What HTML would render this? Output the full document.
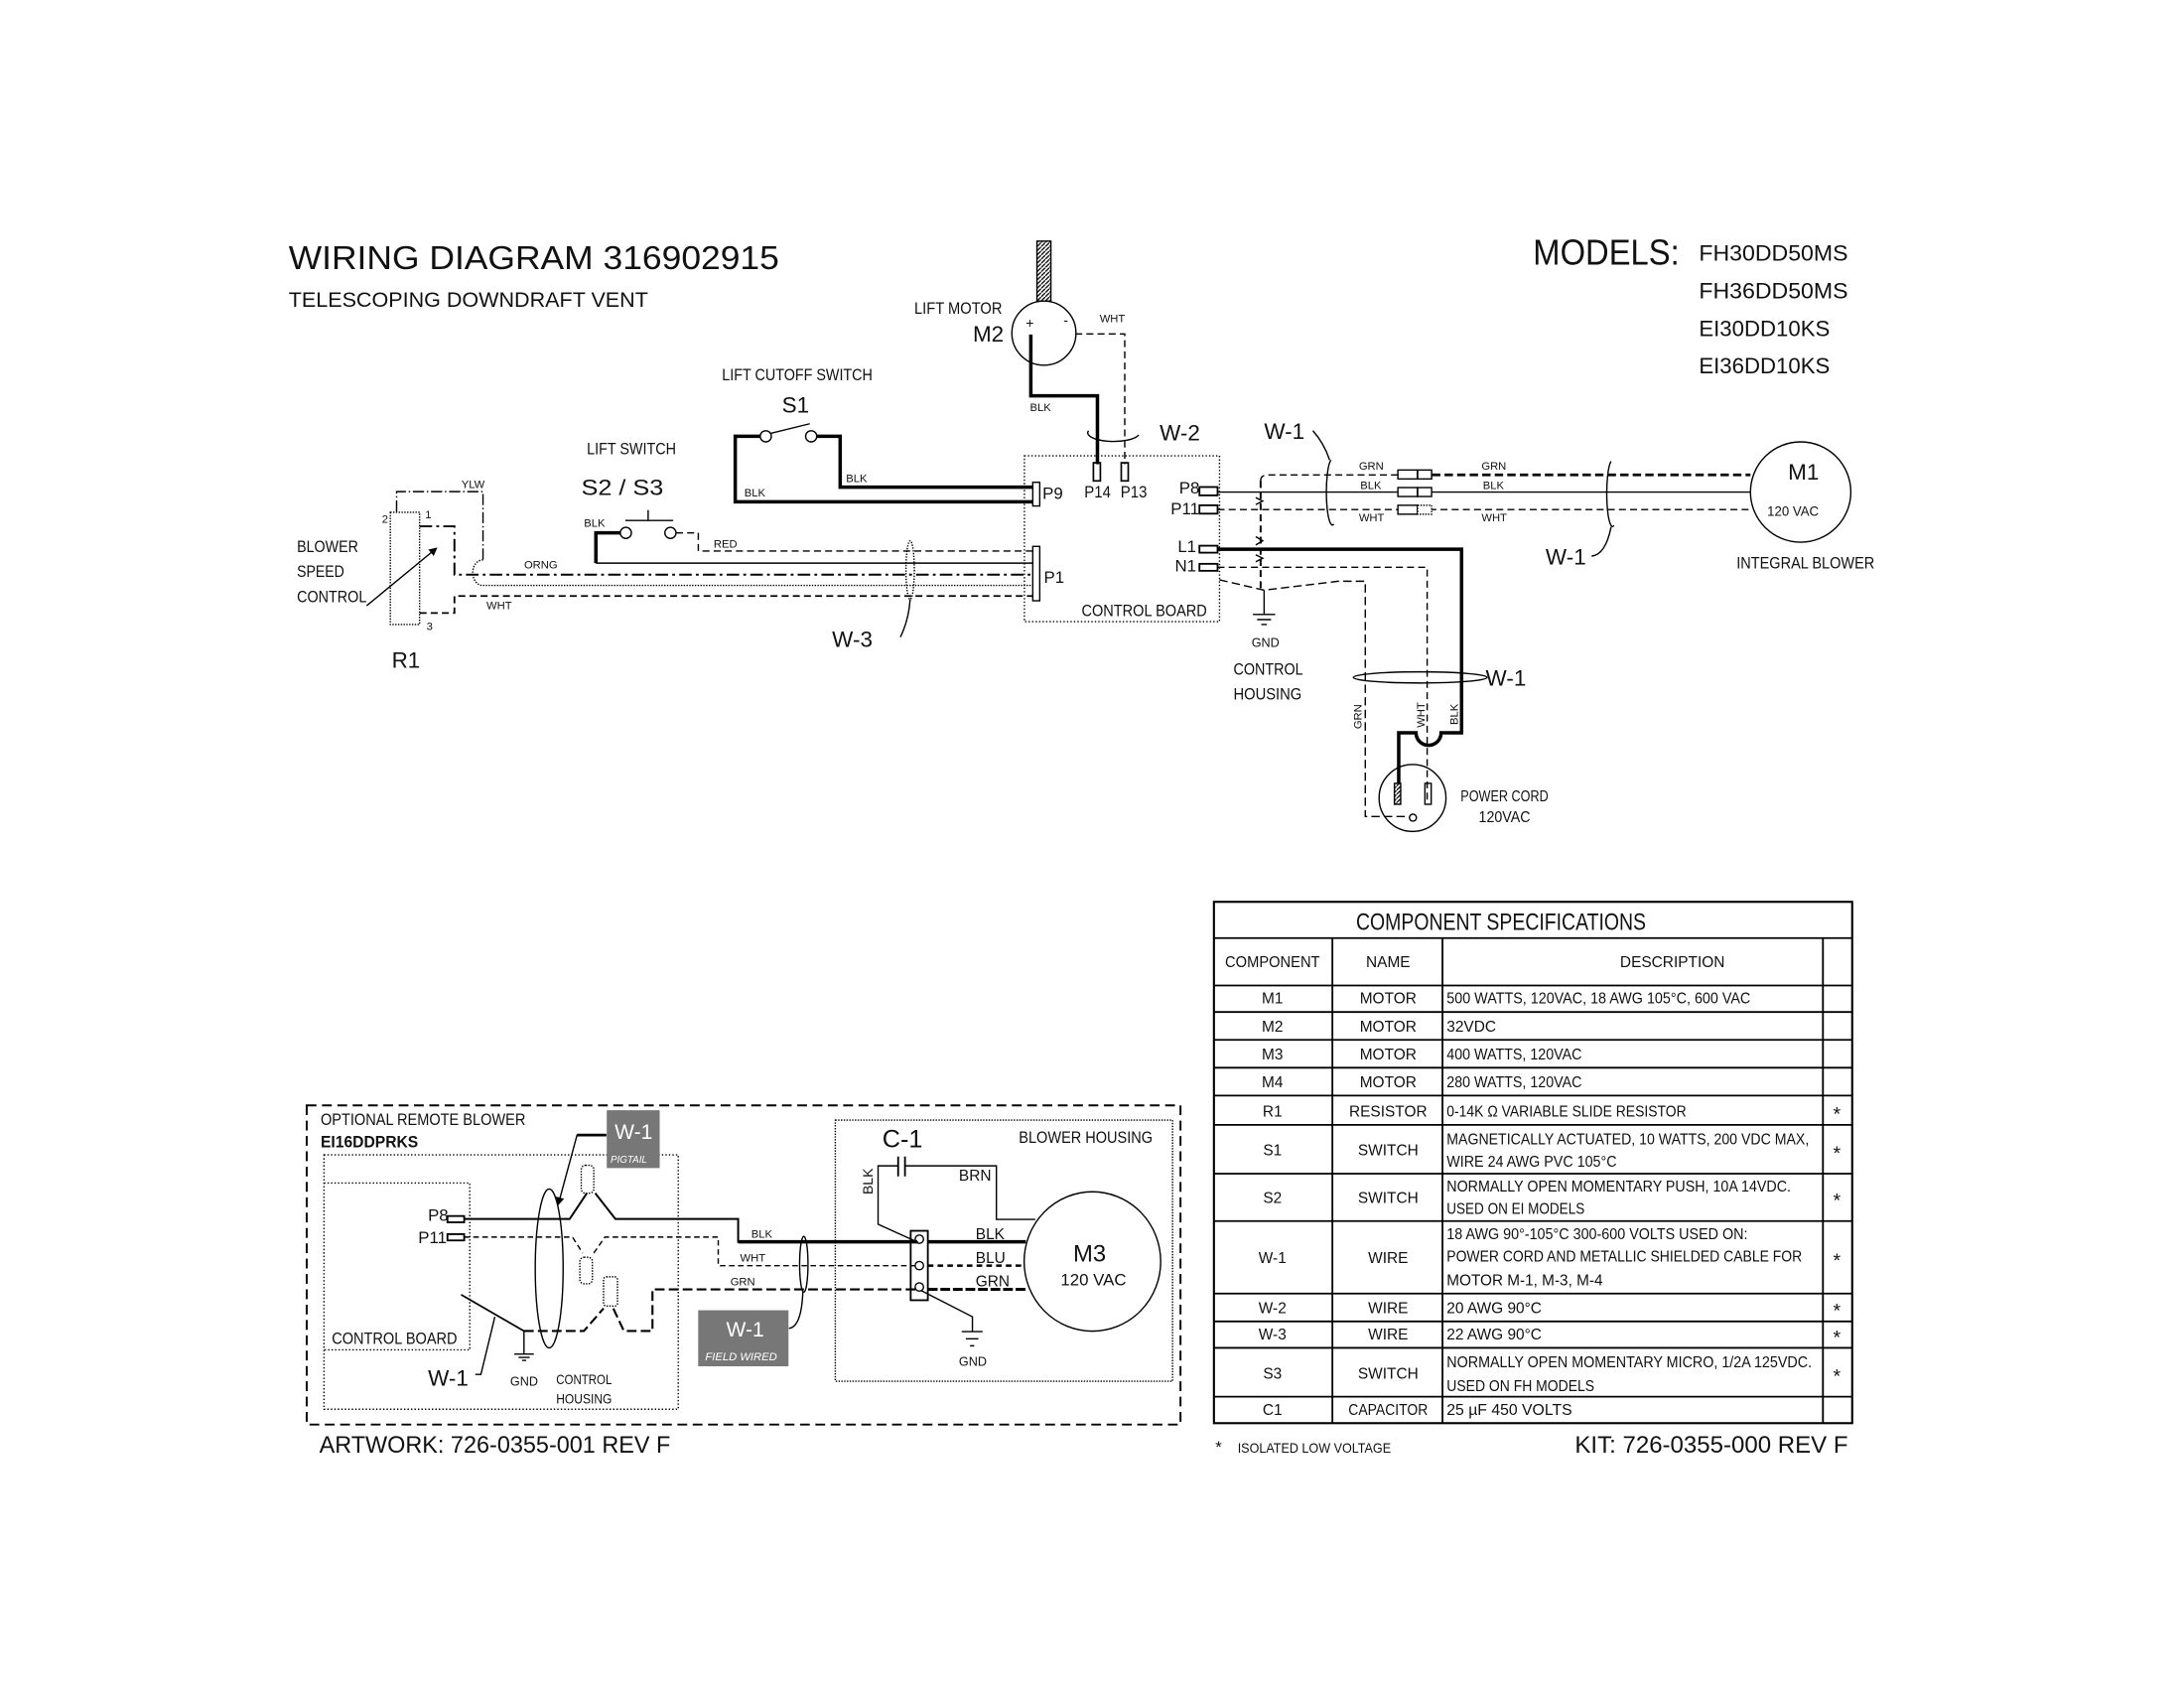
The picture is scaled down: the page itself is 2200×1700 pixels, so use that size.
<!DOCTYPE html>
<html><head><meta charset="utf-8"><style>
html,body{margin:0;padding:0;background:#fff;}
svg{display:block;}
text{font-family:"Liberation Sans Narrow","Liberation Sans",sans-serif;fill:#111;}
</style></head><body>
<svg width="2200" height="1700" viewBox="0 0 1567 1211" xmlns="http://www.w3.org/2000/svg">
<defs>
<pattern id="hatch" width="3" height="3" patternUnits="userSpaceOnUse"><rect width="3" height="3" fill="#fff"/><path d="M0,3 L3,0" stroke="#000" stroke-width="0.9"/></pattern>
<marker id="arr" markerWidth="6" markerHeight="6" refX="5" refY="3" orient="auto"><path d="M0,0 L6,3 L0,6 z" fill="#000"/></marker>
</defs>
<rect width="1567" height="1211" fill="#fff"/>

<text x="207" y="193" font-size="24" textLength="352" lengthAdjust="spacingAndGlyphs">WIRING DIAGRAM   316902915</text>
<text x="207" y="220" font-size="15" textLength="258" lengthAdjust="spacingAndGlyphs">TELESCOPING DOWNDRAFT VENT</text>
<text x="1100" y="190" font-size="26" textLength="105" lengthAdjust="spacingAndGlyphs">MODELS:</text>
<text x="1219" y="187" font-size="16" textLength="107" lengthAdjust="spacingAndGlyphs">FH30DD50MS</text>
<text x="1219" y="214" font-size="16" textLength="107" lengthAdjust="spacingAndGlyphs">FH36DD50MS</text>
<text x="1219" y="241" font-size="16" textLength="94" lengthAdjust="spacingAndGlyphs">EI30DD10KS</text>
<text x="1219" y="268" font-size="16" textLength="94" lengthAdjust="spacingAndGlyphs">EI36DD10KS</text>

<g fill="none" stroke="#000" stroke-width="1">
<rect x="744" y="173" width="10" height="43" fill="url(#hatch)" stroke="#000"/>
<circle cx="749" cy="239" r="23" fill="#fff"/>
<path d="M739.6,240 V284 H787.4 V333" stroke-width="2.5"/>
<path d="M771.5,239.6 H807 V333" stroke-dasharray="5,3"/>
<rect x="784.5" y="332" width="5" height="13" stroke-width="1.2"/>
<rect x="804.5" y="332" width="5" height="13" stroke-width="1.2"/>
<path d="M781,309 A18,6 0 1 0 817,312" />
<rect x="735" y="327" width="140" height="119" stroke-dasharray="1,1.5"/>
<rect x="741" y="346" width="5" height="17"/>
<rect x="741" y="392" width="5" height="39"/>
<circle cx="549.4" cy="313" r="4"/>
<circle cx="582" cy="313" r="4"/>
<path d="M552.6,311 L581,304"/>
<path d="M545.5,313 H527.5 V360 H741" stroke-width="2.5"/>
<path d="M586,313 H602.8 V349.5 H741" stroke-width="2.5"/>
<path d="M465,366 V373.4 M448.6,373.4 H483"/>
<circle cx="449" cy="382.3" r="4"/>
<circle cx="481" cy="382.3" r="4"/>
<path d="M445,382.3 H427.5 V404" stroke-width="2.5"/>
<path d="M427.5,404 H741"/>
<path d="M485,382.3 H501 V395.3 H741" stroke-dasharray="5,3"/>
<rect x="280" y="367.5" width="21" height="80.5" stroke-dasharray="1,1"/>
<path d="M284.5,367 V352.7 H346.5 V401.7" stroke-dasharray="8,2,1,2"/>
<path d="M346.5,401.7 A7,9 0 0 0 346,420 H741" stroke-dasharray="1,1"/>
<path d="M301,377.6 H326 V412.3 H741" stroke-dasharray="9,3,2,3" stroke-width="1.4"/>
<path d="M301,439.8 H326 V427.6 H741" stroke-dasharray="5,3" stroke-width="1.3"/>
<path d="M263,434.6 L313,393.4" marker-end="url(#arr)"/>
<ellipse cx="653" cy="409" rx="3" ry="21" stroke-dasharray="1,1"/>
<path d="M653,430 Q652,445 646,457"/>
<rect x="860.6" y="349.4" width="13" height="6" stroke-width="1.3"/>
<rect x="860.6" y="362.5" width="13" height="6" stroke-width="1.3"/>
<rect x="860.6" y="391.5" width="13" height="5" stroke-width="1.3"/>
<rect x="860.6" y="404.5" width="13" height="5" stroke-width="1.3"/>
<path d="M873.6,353 H1256"/>
<path d="M873.6,365.6 H1256" stroke-dasharray="5,3"/>
<path d="M904.5,345 Q904.5,340.7 910,340.7 H1003" stroke-dasharray="5,3"/>
<path d="M1027.5,340.7 H1256" stroke-dasharray="6,3" stroke-width="2"/>
<path d="M904.5,345 V423" stroke-dasharray="5,3" stroke-width="1.4"/>
<path d="M901,357 L906,359.5 L901,362 M901,385 L906,388 L901,391 M901,398 L906,400.5 L901,403" stroke-width="1"/>
<path d="M873.6,394 H1048.7 V525.7 H1034 A9,9 0 0 1 1016,525.7 H1003.6 V562" stroke-width="2.5"/>
<path d="M873.6,407 H1024 V575" stroke-dasharray="5,3"/>
<path d="M875,416 L907,423.4 L960,417 H979.6 V585.8 H1011" stroke-dasharray="6,3"/>
<path d="M907,423.4 V440.8 M899,440.8 H915 M902,444.5 H912 M905,448 H909"/>
<rect x="1003" y="337.2" width="14" height="6.4" fill="#fff"/><rect x="1017.2" y="337.2" width="10" height="6.4" fill="#fff"/>
<rect x="1003" y="349.8" width="14" height="6.4" fill="#fff"/><rect x="1017.2" y="349.8" width="10" height="6.4" fill="#fff"/>
<rect x="1003" y="362.5" width="14" height="6.4" fill="#fff"/><rect x="1017.2" y="362.5" width="10" height="6.4" fill="#fff" stroke-dasharray="1,1"/>
<path d="M955,330 A4,22 0 1 0 957,376"/>
<path d="M942,309 Q950,318 954,330"/>
<path d="M1156,331 A4,23 0 1 0 1158,377"/>
<path d="M1156,378 Q1152,398 1142,399"/>
<ellipse cx="1019" cy="486" rx="48" ry="4"/>
<circle cx="1292" cy="353" r="36" fill="#fff"/>
<circle cx="1013.5" cy="572.5" r="24"/>
<rect x="1000.5" y="562" width="4.5" height="15" fill="url(#hatch)"/>
<rect x="1022.4" y="562" width="4.5" height="15"/>
<circle cx="1013.8" cy="586.6" r="2.5"/>

<rect x="220" y="793" width="627" height="229" stroke-dasharray="7,4" stroke-width="1.4"/>
<rect x="232.4" y="828.5" width="254.2" height="182.5" stroke-dasharray="1,1.5"/>
<path d="M232.4,848.7 H337 V968.4 H232.4" stroke-dasharray="1,1.5"/>
<rect x="321" y="872.4" width="12" height="4.5" stroke-width="1.3"/>
<rect x="321" y="885.4" width="12" height="4.5" stroke-width="1.3"/>
<path d="M333,874.5 H408.7 L421,856 M427,856 L441.5,874.5 H529.6 V890.9 H658" stroke-width="1.4"/>
<path d="M529.6,890.9 H658" stroke-width="2.5"/>
<path d="M333,887.5 H410.7 L418,899 M426,899 L434,887.5 H515.3 V908 H658" stroke-dasharray="4,2.5"/>
<path d="M375.9,954.9 H418.9 L433,938.7 M440,938.7 L447.6,954.9 H468.1 V925 H658" stroke-dasharray="7,3" stroke-width="1.5"/>
<path d="M330.8,928.8 L375.9,954.9" stroke-width="1.2"/>
<path d="M375.9,954.9 V971 M369,971.4 H383 M372,973.8 H380 M374.5,976 H377.5"/>
<path d="M355,944.7 L345,986 H341"/>
<ellipse cx="394" cy="910" rx="10" ry="57"/>
<rect x="417" y="836" width="9" height="20" rx="3" stroke-dasharray="1,1"/>
<rect x="416" y="902" width="9" height="19" rx="3" stroke-dasharray="1,1"/>
<rect x="433" y="916" width="10" height="21" rx="2" stroke-dasharray="1,1"/>
<path d="M435,814.3 H414 L400.5,864" stroke-width="1" marker-end="url(#arr)"/>
<path d="M435,814.3 H414" stroke-width="2"/>
<ellipse cx="576.7" cy="907" rx="3" ry="20"/>
<path d="M566,953 Q575,952 576,927"/>
<rect x="599.3" y="803.6" width="242" height="187.3" stroke-dasharray="1,1"/>
<path d="M644.4,829.7 V844 M649.3,829.7 V844" stroke-width="1.3"/>
<path d="M644.4,836.4 H630 V878.3 L658.8,891.3"/>
<path d="M649.3,836.4 H714.9 V874.8 H742.8"/>
<rect x="653.4" y="883" width="12.3" height="49.8" stroke-width="1.3"/>
<circle cx="659.6" cy="889" r="3"/><circle cx="659.6" cy="908" r="3"/><circle cx="659.6" cy="923.3" r="3"/>
<path d="M665.7,890.9 H736" stroke-width="2.5"/>
<path d="M665.7,908 H736" stroke-dasharray="4,3" stroke-width="1.8"/>
<path d="M665.7,925 H736" stroke-dasharray="7,2" stroke-width="2.2"/>
<path d="M660.6,925.7 L697.7,944.7 V955.3 M690,955.3 H705 M693,960.5 H702 M696,965.5 H699"/>
<ellipse cx="783.8" cy="905" rx="49" ry="50" fill="#fff"/>

<rect x="871" y="647" width="458" height="374" stroke-width="1.5"/>
<path d="M871,673 H1329 M871,707 H1329 M871,726 H1329 M871,746 H1329 M871,766 H1329 M871,786 H1329 M871,807 H1329 M871,842 H1329 M871,876 H1329 M871,928 H1329 M871,948 H1329 M871,967 H1329 M871,1002 H1329" stroke-width="1.3"/>
<path d="M956,673 V1021 M1035,673 V1021 M1308,673 V1021" stroke-width="1.3"/>
</g>

<g font-size="11">
<text x="656" y="225" font-size="12" textLength="63" lengthAdjust="spacingAndGlyphs">LIFT MOTOR</text>
<text x="698" y="245" font-size="16">M2</text>
<text x="736" y="235" font-size="10">+</text>
<text x="763" y="233" font-size="10">-</text>
<text x="789" y="231" font-size="8">WHT</text>
<text x="739" y="295" font-size="8">BLK</text>
<text x="832" y="316" font-size="16">W-2</text>
<text x="778" y="357" font-size="12" textLength="19" lengthAdjust="spacingAndGlyphs">P14</text>
<text x="804" y="357" font-size="12" textLength="19" lengthAdjust="spacingAndGlyphs">P13</text>
<text x="748" y="358" font-size="12">P9</text>
<text x="749" y="418" font-size="12">P1</text>
<text x="776" y="442" font-size="12" textLength="90" lengthAdjust="spacingAndGlyphs">CONTROL BOARD</text>
<text x="518" y="273" font-size="12" textLength="108" lengthAdjust="spacingAndGlyphs">LIFT CUTOFF SWITCH</text>
<text x="561" y="296" font-size="16">S1</text>
<text x="534" y="356" font-size="8">BLK</text>
<text x="607" y="346" font-size="8">BLK</text>
<text x="421" y="326" font-size="12" textLength="64" lengthAdjust="spacingAndGlyphs">LIFT SWITCH</text>
<text x="417" y="355" font-size="16" textLength="59" lengthAdjust="spacingAndGlyphs">S2 / S3</text>
<text x="419" y="378" font-size="8">BLK</text>
<text x="512" y="393" font-size="8">RED</text>
<text x="331" y="350" font-size="8">YLW</text>
<text x="376" y="408" font-size="8">ORNG</text>
<text x="349" y="437" font-size="8">WHT</text>
<text x="274" y="375" font-size="8">2</text>
<text x="305" y="372" font-size="8">1</text>
<text x="306" y="452" font-size="8">3</text>
<text x="213" y="396" font-size="12" textLength="44" lengthAdjust="spacingAndGlyphs">BLOWER</text>
<text x="213" y="414" font-size="12" textLength="34" lengthAdjust="spacingAndGlyphs">SPEED</text>
<text x="213" y="432" font-size="12" textLength="50" lengthAdjust="spacingAndGlyphs">CONTROL</text>
<text x="281" y="479" font-size="16">R1</text>
<text x="597" y="464" font-size="16">W-3</text>
<text x="846" y="354" font-size="12">P8</text>
<text x="840" y="369" font-size="12">P11</text>
<text x="845" y="396" font-size="12">L1</text>
<text x="843" y="410" font-size="12">N1</text>
<text x="907" y="315" font-size="16">W-1</text>
<text x="975" y="337" font-size="8">GRN</text>
<text x="976" y="351" font-size="8">BLK</text>
<text x="975" y="374" font-size="8">WHT</text>
<text x="1063" y="337" font-size="8">GRN</text>
<text x="1064" y="351" font-size="8">BLK</text>
<text x="1063" y="374" font-size="8">WHT</text>
<text x="1109" y="405" font-size="16">W-1</text>
<text x="1283" y="344" font-size="16">M1</text>
<text x="1268" y="370" font-size="10" textLength="37" lengthAdjust="spacingAndGlyphs">120 VAC</text>
<text x="1246" y="408" font-size="12" textLength="99" lengthAdjust="spacingAndGlyphs">INTEGRAL BLOWER</text>
<text x="898" y="464" font-size="9">GND</text>
<text x="885" y="484" font-size="12" textLength="50" lengthAdjust="spacingAndGlyphs">CONTROL</text>
<text x="885" y="502" font-size="12" textLength="49" lengthAdjust="spacingAndGlyphs">HOUSING</text>
<text x="1066" y="492" font-size="16">W-1</text>
<text transform="translate(977,523) rotate(-90)" font-size="8">GRN</text>
<text transform="translate(1022,522) rotate(-90)" font-size="8">WHT</text>
<text transform="translate(1046,520) rotate(-90)" font-size="8">BLK</text>
<text x="1048" y="575" font-size="11" textLength="63" lengthAdjust="spacingAndGlyphs">POWER CORD</text>
<text x="1061" y="590" font-size="11" textLength="37" lengthAdjust="spacingAndGlyphs">120VAC</text>
</g>

<rect x="435.3" y="796.5" width="38" height="41.5" fill="#777"/>
<text x="441" y="817" font-size="15" style="fill:#fff">W-1</text>
<text x="438" y="834" font-size="7" font-style="italic" style="fill:#fff">PIGTAIL</text>
<rect x="500.9" y="940" width="64.8" height="40.2" fill="#777"/>
<text x="521" y="959" font-size="15" style="fill:#fff">W-1</text>
<text x="506" y="976" font-size="8" font-style="italic" style="fill:#fff">FIELD WIRED</text>
<g font-size="12">
<text x="230" y="807" textLength="147" lengthAdjust="spacingAndGlyphs">OPTIONAL REMOTE BLOWER</text>
<text x="230" y="823" font-weight="bold" textLength="70" lengthAdjust="spacingAndGlyphs">EI16DDPRKS</text>
<text x="238" y="964" textLength="90" lengthAdjust="spacingAndGlyphs">CONTROL BOARD</text>
<text x="307" y="876">P8</text>
<text x="300" y="892">P11</text>
<text x="307" y="994" font-size="16">W-1</text>
<text x="366" y="994" font-size="9">GND</text>
<text x="399" y="993" font-size="10" textLength="40" lengthAdjust="spacingAndGlyphs">CONTROL</text>
<text x="399" y="1007" font-size="10" textLength="40" lengthAdjust="spacingAndGlyphs">HOUSING</text>
<text x="539" y="888" font-size="8">BLK</text>
<text x="531" y="905" font-size="8">WHT</text>
<text x="524" y="922" font-size="8">GRN</text>
<text x="633" y="823" font-size="18">C-1</text>
<text x="731" y="820" textLength="96" lengthAdjust="spacingAndGlyphs">BLOWER HOUSING</text>
<text transform="translate(626,857) rotate(-90)" font-size="10">BLK</text>
<text x="688" y="847" font-size="11">BRN</text>
<text x="700" y="889" font-size="11">BLK</text>
<text x="700" y="906" font-size="11">BLU</text>
<text x="700" y="923" font-size="11">GRN</text>
<text x="688" y="980" font-size="9">GND</text>
<text x="770" y="905" font-size="17">M3</text>
<text x="761" y="922" font-size="12">120 VAC</text>
<text x="229" y="1042" font-size="17" textLength="252" lengthAdjust="spacingAndGlyphs">ARTWORK: 726-0355-001    REV F</text>
</g>

<g font-size="11" text-anchor="middle">
<text x="1077" y="667" font-size="17" textLength="208" lengthAdjust="spacingAndGlyphs">COMPONENT SPECIFICATIONS</text>
<text x="913" y="694" textLength="68" lengthAdjust="spacingAndGlyphs">COMPONENT</text><text x="996" y="694">NAME</text><text x="1200" y="694">DESCRIPTION</text>
<text x="913" y="720">M1</text><text x="996" y="720">MOTOR</text>
<text x="913" y="740">M2</text><text x="996" y="740">MOTOR</text>
<text x="913" y="760">M3</text><text x="996" y="760">MOTOR</text>
<text x="913" y="780">M4</text><text x="996" y="780">MOTOR</text>
<text x="913" y="801">R1</text><text x="996" y="801">RESISTOR</text>
<text x="913" y="829">S1</text><text x="996" y="829">SWITCH</text>
<text x="913" y="863">S2</text><text x="996" y="863">SWITCH</text>
<text x="913" y="906">W-1</text><text x="996" y="906">WIRE</text>
<text x="913" y="942">W-2</text><text x="996" y="942">WIRE</text>
<text x="913" y="961">W-3</text><text x="996" y="961">WIRE</text>
<text x="913" y="989">S3</text><text x="996" y="989">SWITCH</text>
<text x="913" y="1015">C1</text><text x="996" y="1015" textLength="57" lengthAdjust="spacingAndGlyphs">CAPACITOR</text>
<text x="1318" y="804" font-size="14">*</text><text x="1318" y="832" font-size="14">*</text><text x="1318" y="866" font-size="14">*</text><text x="1318" y="909" font-size="14">*</text>
<text x="1318" y="945" font-size="14">*</text><text x="1318" y="964" font-size="14">*</text><text x="1318" y="992" font-size="14">*</text>
</g>
<g font-size="11">
<text x="1038" y="720" textLength="218" lengthAdjust="spacingAndGlyphs">500 WATTS, 120VAC, 18 AWG 105°C, 600 VAC</text>
<text x="1038" y="740">32VDC</text>
<text x="1038" y="760" textLength="97" lengthAdjust="spacingAndGlyphs">400 WATTS, 120VAC</text>
<text x="1038" y="780" textLength="97" lengthAdjust="spacingAndGlyphs">280 WATTS, 120VAC</text>
<text x="1038" y="801" textLength="172" lengthAdjust="spacingAndGlyphs">0-14K Ω VARIABLE SLIDE RESISTOR</text>
<text x="1038" y="821" textLength="260" lengthAdjust="spacingAndGlyphs">MAGNETICALLY ACTUATED, 10 WATTS, 200 VDC MAX,</text>
<text x="1038" y="837" textLength="122" lengthAdjust="spacingAndGlyphs">WIRE 24 AWG PVC 105°C</text>
<text x="1038" y="855" textLength="247" lengthAdjust="spacingAndGlyphs">NORMALLY OPEN MOMENTARY PUSH, 10A 14VDC.</text>
<text x="1038" y="871" textLength="99" lengthAdjust="spacingAndGlyphs">USED ON EI MODELS</text>
<text x="1038" y="889" textLength="216" lengthAdjust="spacingAndGlyphs">18 AWG 90°-105°C 300-600 VOLTS USED ON:</text>
<text x="1038" y="905" textLength="255" lengthAdjust="spacingAndGlyphs">POWER CORD AND METALLIC SHIELDED CABLE FOR</text>
<text x="1038" y="922" textLength="112" lengthAdjust="spacingAndGlyphs">MOTOR M-1, M-3, M-4</text>
<text x="1038" y="942">20 AWG 90°C</text>
<text x="1038" y="961">22 AWG 90°C</text>
<text x="1038" y="981" textLength="262" lengthAdjust="spacingAndGlyphs">NORMALLY OPEN MOMENTARY MICRO, 1/2A 125VDC.</text>
<text x="1038" y="998" textLength="106" lengthAdjust="spacingAndGlyphs">USED ON FH MODELS</text>
<text x="1038" y="1015" textLength="90" lengthAdjust="spacingAndGlyphs">25    µF 450 VOLTS</text>
<text x="872" y="1042" font-size="12">*</text>
<text x="888" y="1042" font-size="10" textLength="110" lengthAdjust="spacingAndGlyphs">ISOLATED LOW VOLTAGE</text>
<text x="1130" y="1042" font-size="17" textLength="196" lengthAdjust="spacingAndGlyphs">KIT: 726-0355-000    REV F</text>
</g>
</svg>
</body></html>
